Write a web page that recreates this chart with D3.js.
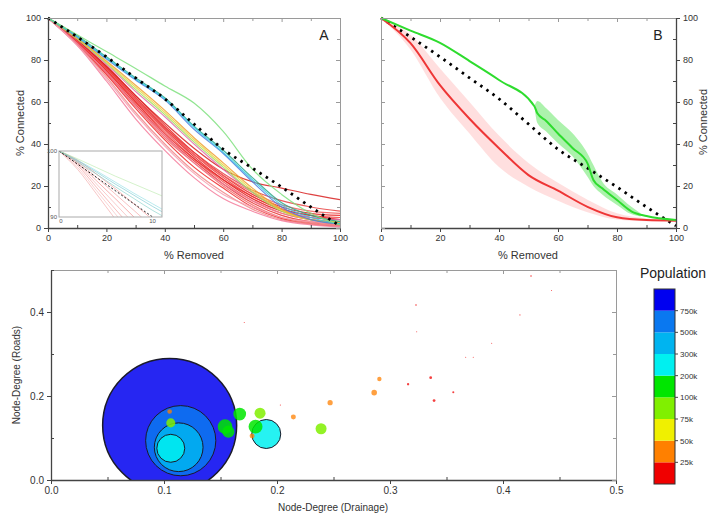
<!DOCTYPE html>
<html>
<head>
<meta charset="utf-8">
<script src="https://cdn.jsdelivr.net/npm/d3@7"></script>
<style>
  body { margin: 0; background: #fff; }
  svg { font-family: "Liberation Sans", Arial, sans-serif; }
</style>
</head>
<body>
<script>
// ---- panel A : % connected vs % removed, one line per town ----
var removedPct = [0, 10, 20, 30, 40, 50, 60, 70, 80, 90, 100];
var randomRemoval = [100, 91, 81.5, 71.5, 61.5, 49.5, 37.5, 28.5, 19.5, 10, 1];
var townLines = [
  [100, 89.5, 77, 63, 49, 36, 25, 16, 10, 7, 6],
  [100, 89, 76.5, 62, 48, 35, 24, 15, 9, 6, 5],
  [100, 89, 76, 61, 47, 34, 23, 14, 8, 5, 4],
  [100, 88.5, 75, 60, 46, 33, 22, 13, 7, 4, 3],
  [100, 88, 74, 59, 44, 32, 21, 12, 6, 3, 2],
  [100, 88, 73.5, 58, 43, 31, 20, 11, 5, 2.5, 1.5],
  [100, 87.5, 73, 57, 42, 29, 19, 10, 4.5, 2, 1],
  [100, 87.5, 72, 55, 40, 27, 17, 9, 4, 2, 1],
  [100, 87, 70, 52, 37, 24, 14, 8, 3.5, 1.5, 0.5],
  [100, 89.5, 77, 63, 50, 38, 28, 22, 19, 16, 13.5],
  [100, 89, 76, 62, 48, 36, 26, 18, 13, 10, 8],
  [100, 89, 75.5, 61, 47, 35, 25, 17, 11, 8, 7],
  [100, 88.5, 75, 60, 45, 33, 23, 15, 9, 6, 4],
  [100, 88, 74, 58, 44, 31, 21, 13, 7, 4, 3],
  [100, 87, 71, 54, 39, 26, 16, 10, 5, 3, 2],
  [100, 90, 78, 65, 53, 40, 28, 17, 9, 5, 4],
  [100, 90, 78.5, 66, 54, 41, 29, 17, 8, 4, 2],
  [100, 90.5, 79, 67, 55, 42, 30, 18, 8.5, 4, 3],
  [100, 90.5, 79.5, 68, 56, 43, 31, 19, 9, 4, 2.5],
  [100, 91.5, 81.5, 71.5, 62, 48.5, 37, 24, 12, 6, 3],
  [100, 91, 80.5, 70.5, 61, 47, 35.5, 22, 10, 4, 2],
  [100, 91, 81, 71, 61.5, 48, 36, 23, 11, 5, 2],
  [100, 92, 84, 76, 67.6, 59.5, 46, 28, 16, 7, 1.5]
];
var townColors = ["#e82020", "#f03a3a", "#e01818", "#f05050", "#e83030", "#f06868", "#ee2828",
  "#f08888", "#f47a9a", "#d82020", "#e84040", "#f25a5a", "#ea2a2a", "#f07890", "#f4a0b0",
  "#e070b0", "#a0e060", "#e8d840", "#f0a030", "#2aa88a", "#4a7fe0", "#35c8e0", "#7ee07e"];

// inset (first 11 % removed)
var insetPct = [0, 2, 4, 6, 8, 10, 11];
var insetRandom = [100, 98, 96, 94, 92, 90, 89];
var insetLines = [
  [100, 98.6, 96.5, 94.3, 92, 89.6, 88.4],
  [100, 98.4, 96, 93.5, 91, 88.5, 87.3],
  [100, 98.2, 95.5, 92.8, 90, 87.2, 85.8],
  [100, 98, 95, 92, 89, 86, 84.5],
  [100, 97.8, 94.5, 91.2, 88, 84.8, 83.2],
  [100, 97.5, 94, 90.5, 87, 83.5, 82],
  [100, 97.2, 93.5, 89.7, 86, 82, 80],
  [100, 98.3, 96.5, 94.6, 92.8, 91, 90.2],
  [100, 98.5, 96.8, 95, 93.3, 91.6, 90.8],
  [100, 98.6, 97, 95.3, 93.6, 92, 91.2],
  [100, 98.8, 97.5, 96.2, 95, 93.8, 93.2]
];
var insetColors = ["#f08080", "#f09090", "#f07070", "#f4a0a0", "#f08888", "#f4b0b0", "#f09898",
  "#70c8c0", "#60c0c8", "#80d8e0", "#b0e8a0"];

// ---- panel B : mean of low / high population towns ----
var bandPct = [0, 10, 20, 30, 40, 50, 60, 70, 80, 90, 100];
var lowPopMean = [100, 88, 68, 52, 38, 25.2, 17.8, 10.1, 5.1, 3.8, 3.5];
var lowPopUpper = [100, 92, 76, 60, 44, 31, 21.5, 13.5, 7, 4.5, 3.5];
var lowPopLower = [100, 85, 62, 45, 29, 19.7, 13, 7.5, 4, 3.2, 3.5];
var highPct = [0, 10, 20, 30, 40, 52, 53, 56, 60, 65, 70, 72, 75, 80, 85, 90, 100];
var highPopMean = [100, 94, 88.2, 79.5, 70.5, 58, 54.6, 51, 45, 38, 30.8, 22.9, 18.9, 13.3, 7.8, 5.7, 3.8];
var highBandPct = [52, 53, 56, 60, 65, 70, 72, 75, 80, 85, 88];
var highPopUpper = [58, 60.5, 57, 51.4, 45, 35.5, 30, 22, 16, 10, 7];
var highPopLower = [58, 50, 46, 40.3, 34, 24.4, 20, 16, 11, 6.5, 5.5];

// ---- bottom : node degree bubbles ----
var drainDegree = [0.105, 0.1148, 0.113, 0.106, 0.1905, 0.154, 0.157, 0.167, 0.181, 0.185, 0.239, 0.106,
  0.105, 0.178, 0.2145, 0.247, 0.286, 0.2906, 0.316, 0.336, 0.339, 0.356, 0.323, 0.3236, 0.367, 0.3737,
  0.39, 0.415, 0.4248, 0.443, 0.171, 0.203];
var roadDegree = [0.130, 0.0936, 0.078, 0.0755, 0.1095, 0.127, 0.115, 0.157, 0.127, 0.159, 0.122, 0.136,
  0.163, 0.105, 0.150, 0.184, 0.208, 0.2405, 0.228, 0.2437, 0.189, 0.209, 0.4167, 0.353, 0.292, 0.292,
  0.3254, 0.393, 0.4857, 0.451, 0.375, 0.1786];
var population = [1155000, 605000, 420000, 241000, 250000, 126000, 105000, 110000, 120000, 95000, 95000, 78000,
  40000, 43000, 43000, 45000, 48000, 38000, 20000, 24000, 24000, 18000, 14000, 6000, 4000, 4000,
  8000, 10000, 14000, 5000, 5000, 10000];
var popBreaks = [25000, 50000, 75000, 100000, 200000, 300000, 500000, 750000];
var popLabels = ["25k", "50k", "75k", "100k", "200k", "300k", "500k", "750k"];
var popColors = ["#f00000", "#ff8000", "#f0f000", "#80f000", "#00e600", "#00f0f0", "#00b4f0", "#0a78f0", "#0000f0"];

var svg = d3.select("body").append("svg").attr("width", 718).attr("height", 519);

function axes(xs, ys, xMaj, xMin, yMaj, yMin, fx, fy, ySide, fs) {
  var xr = xs.range(), yr = ys.range();
  function put(axis, tx, ty, col, keepDomain) {
    var g = svg.append("g").attr("transform", "translate(" + tx + "," + ty + ")").call(axis);
    g.selectAll("line").attr("stroke", col);
    g.select(".domain").attr("stroke", col).attr("stroke-width", keepDomain ? 1.3 : 1);
    if (keepDomain === null) g.select(".domain").remove();
    g.selectAll("text").attr("fill", "#333").style("font-size", fs + "px").style("font-family", "Liberation Sans, Arial, sans-serif");
    return g;
  }
  var dark = "#444", light = "#9a9a9a";
  // bottom
  put(d3.axisBottom(xs).tickValues(xMaj).tickSize(4).tickSizeOuter(0).tickFormat(fx), 0, yr[0], dark, true);
  put(d3.axisBottom(xs).tickValues(xMin).tickSize(-3).tickSizeOuter(0).tickFormat(""), 0, yr[0], dark, null);
  // top
  put(d3.axisTop(xs).tickValues(xMaj).tickSize(-4).tickSizeOuter(0).tickFormat(""), 0, yr[1], light, false);
  put(d3.axisTop(xs).tickValues(xMin).tickSize(-3).tickSizeOuter(0).tickFormat(""), 0, yr[1], light, null);
  var mainY = ySide === "left" ? d3.axisLeft(ys) : d3.axisRight(ys);
  var mainX = ySide === "left" ? xr[0] : xr[1];
  var otherY = ySide === "left" ? d3.axisRight(ys) : d3.axisLeft(ys);
  var otherX = ySide === "left" ? xr[1] : xr[0];
  put(mainY.tickValues(yMaj).tickSize(4).tickSizeOuter(0).tickFormat(fy), mainX, 0, dark, true);
  var mainMin = ySide === "left" ? d3.axisLeft(ys) : d3.axisRight(ys);
  put(mainMin.tickValues(yMin).tickSize(-3).tickSizeOuter(0).tickFormat(""), mainX, 0, dark, null);
  put(otherY.tickValues(yMaj).tickSize(-4).tickSizeOuter(0).tickFormat(""), otherX, 0, light, false);
  var otherMin = ySide === "left" ? d3.axisRight(ys) : d3.axisLeft(ys);
  put(otherMin.tickValues(yMin).tickSize(-3).tickSizeOuter(0).tickFormat(""), otherX, 0, light, null);
}

function label(x, y, txt, size, rot) {
  var t = svg.append("text").attr("x", x).attr("y", y).attr("text-anchor", "middle")
    .attr("font-size", size).attr("fill", "#333").text(txt);
  if (rot) t.attr("transform", "rotate(-90," + x + "," + y + ")").attr("dominant-baseline", "central");
  return t;
}

var pctMaj = [0, 20, 40, 60, 80, 100], pctMin = [10, 30, 50, 70, 90];

// ===== panel A =====
var xA = d3.scaleLinear().domain([0, 100]).range([48, 340]);
var yA = d3.scaleLinear().domain([0, 100]).range([228, 18]);
var lineA = d3.line().x(function (d, i) { return xA(removedPct[i]); }).y(function (d) { return yA(d); }).curve(d3.curveMonotoneX);

svg.append("g").selectAll("path").data(townLines).enter().append("path")
  .attr("d", lineA).attr("fill", "none")
  .attr("stroke", function (d, i) { return townColors[i]; })
  .attr("stroke-width", 1.2).attr("stroke-opacity", 0.85);
svg.append("path").attr("d", lineA(randomRemoval)).attr("fill", "none").attr("stroke", "#000")
  .attr("stroke-width", 2.8).attr("stroke-dasharray", "2.5,5");

// inset
var xI = d3.scaleLinear().domain([0, 11]).range([59, 162]);
var yI = d3.scaleLinear().domain([90, 100]).range([217, 151]);
svg.append("clipPath").attr("id", "clipI").append("rect").attr("x", 59).attr("y", 151).attr("width", 103).attr("height", 66);
svg.append("rect").attr("x", 59).attr("y", 151).attr("width", 103).attr("height", 66).attr("fill", "#fff");
var lineI = d3.line().x(function (d, i) { return xI(insetPct[i]); }).y(function (d) { return yI(d); }).curve(d3.curveMonotoneX);
var gI = svg.append("g").attr("clip-path", "url(#clipI)");
gI.selectAll("path.il").data(insetLines).enter().append("path").attr("class", "il")
  .attr("d", lineI).attr("fill", "none")
  .attr("stroke", function (d, i) { return insetColors[i]; })
  .attr("stroke-width", 1).attr("stroke-opacity", 0.55);
gI.append("path").attr("d", lineI(insetRandom)).attr("fill", "none").attr("stroke", "#222")
  .attr("stroke-width", 1).attr("stroke-dasharray", "2,2");
svg.append("rect").attr("x", 59).attr("y", 151).attr("width", 103).attr("height", 66)
  .attr("fill", "none").attr("stroke", "#aaa").attr("stroke-width", 1);

axes(xA, yA, pctMaj, pctMin, pctMaj, pctMin, d3.format("d"), d3.format("d"), "left", 9);

[[100, 57, 153, "end"], [90, 57, 219, "end"]].forEach(function (t) {
  svg.append("text").attr("x", t[1]).attr("y", yI(t[0]) + 2).attr("text-anchor", t[3])
    .attr("font-size", 6).attr("fill", "#555").text(t[0]);
});
[0, 10].forEach(function (v) {
  svg.append("text").attr("x", xI(v) + (v === 0 ? 2 : 0)).attr("y", 223).attr("text-anchor", "middle")
    .attr("font-size", 6).attr("fill", "#555").text(v);
});
label(20, 123, "% Connected", 11, true);
label(194, 259, "% Removed", 11);
svg.append("text").attr("x", 324).attr("y", 40).attr("text-anchor", "middle").attr("font-size", 14).attr("fill", "#222").text("A");

// ===== panel B =====
var xB = d3.scaleLinear().domain([0, 100]).range([381, 676]);
var yB = d3.scaleLinear().domain([0, 100]).range([228, 18]);
var bandLow = d3.area().x(function (d, i) { return xB(bandPct[i]); })
  .y0(function (d, i) { return yB(lowPopLower[i]); }).y1(function (d, i) { return yB(lowPopUpper[i]); })
  .curve(d3.curveMonotoneX);
svg.append("path").attr("d", bandLow(bandPct)).attr("fill", "#ffb8b8").attr("fill-opacity", 0.45);
var bandHigh = d3.area().x(function (d, i) { return xB(highBandPct[i]); })
  .y0(function (d, i) { return yB(highPopLower[i]); }).y1(function (d, i) { return yB(highPopUpper[i]); })
  .curve(d3.curveMonotoneX);
svg.append("path").attr("d", bandHigh(highBandPct)).attr("fill", "#90ee90").attr("fill-opacity", 0.75);

var lineB = d3.line().x(function (d, i) { return xB(removedPct[i]); }).y(function (d) { return yB(d); }).curve(d3.curveMonotoneX);
svg.append("path").attr("d", lineB(randomRemoval)).attr("fill", "none").attr("stroke", "#000")
  .attr("stroke-width", 2.8).attr("stroke-dasharray", "2.5,5");
var lineLow = d3.line().x(function (d, i) { return xB(bandPct[i]); }).y(function (d) { return yB(d); }).curve(d3.curveMonotoneX);
svg.append("path").attr("d", lineLow(lowPopMean)).attr("fill", "none").attr("stroke", "#ee3636").attr("stroke-width", 2);
var lineHigh = d3.line().x(function (d, i) { return xB(highPct[i]); }).y(function (d) { return yB(d); }).curve(d3.curveMonotoneX);
svg.append("path").attr("d", lineHigh(highPopMean)).attr("fill", "none").attr("stroke", "#2edc2e").attr("stroke-width", 2);

axes(xB, yB, pctMaj, pctMin, pctMaj, pctMin, d3.format("d"), d3.format("d"), "right", 9);
label(703, 122, "% Connected", 11, true);
label(528, 259, "% Removed", 11);
svg.append("text").attr("x", 658).attr("y", 40).attr("text-anchor", "middle").attr("font-size", 14).attr("fill", "#222").text("B");

// ===== bottom bubbles =====
var xC = d3.scaleLinear().domain([0, 0.5]).range([51, 616]);
var yC = d3.scaleLinear().domain([0, 0.5]).range([480, 270]);
var rC = d3.scaleLinear().domain([0, 1000000]).range([0, 58]);
var cC = d3.scaleThreshold().domain(popBreaks).range(popColors);

svg.append("clipPath").attr("id", "clipC").append("rect").attr("x", 51).attr("y", 270).attr("width", 565).attr("height", 210);
var towns = population.map(function (p, i) { return { x: drainDegree[i], y: roadDegree[i], p: p }; })
  .sort(function (a, b) { return b.p - a.p; });
svg.append("g").attr("clip-path", "url(#clipC)").selectAll("circle").data(towns).enter().append("circle")
  .attr("cx", function (d) { return xC(d.x); })
  .attr("cy", function (d) { return yC(d.y); })
  .attr("r", function (d) { return Math.max(0.5, rC(d.p)); })
  .attr("fill", function (d) { return cC(d.p); })
  .attr("fill-opacity", function (d) { return d.p < 50000 ? 0.75 : 0.85; })
  .attr("stroke", function (d) { return d.p >= 200000 ? "#1a1a2a" : "none"; })
  .attr("stroke-width", function (d) { return d.p > 1000000 ? 1.5 : 1; });

var fmt1 = d3.format(".1f");
axes(xC, yC, [0, 0.1, 0.2, 0.3, 0.4, 0.5], [0.05, 0.15, 0.25, 0.35, 0.45], [0, 0.2, 0.4], [0.1, 0.3, 0.5], fmt1, fmt1, "left", 10);
label(333, 511, "Node-Degree (Drainage)", 10);
label(16, 375, "Node-Degree (Roads)", 10, true);

// legend
var yL = d3.scaleLinear().domain([0, popColors.length]).range([484, 289]);
svg.append("g").selectAll("rect").data(popColors).enter().append("rect")
  .attr("x", 654).attr("width", 21)
  .attr("y", function (d, i) { return yL(i + 1); })
  .attr("height", function (d, i) { return yL(i) - yL(i + 1); })
  .attr("fill", function (d) { return d; });
svg.append("rect").attr("x", 654).attr("y", 289).attr("width", 21).attr("height", 195)
  .attr("fill", "none").attr("stroke", "#333").attr("stroke-width", 1);
var gL = svg.append("g");
popLabels.forEach(function (t, i) {
  gL.append("line").attr("x1", 675).attr("x2", 678).attr("y1", yL(i + 1)).attr("y2", yL(i + 1)).attr("stroke", "#444");
  gL.append("text").attr("x", 680).attr("y", yL(i + 1) + 3).attr("font-size", 8).attr("fill", "#333").text(t);
});
svg.append("text").attr("x", 673).attr("y", 278).attr("text-anchor", "middle").attr("font-size", 14).attr("fill", "#222").text("Population");
</script>
</body>
</html>
